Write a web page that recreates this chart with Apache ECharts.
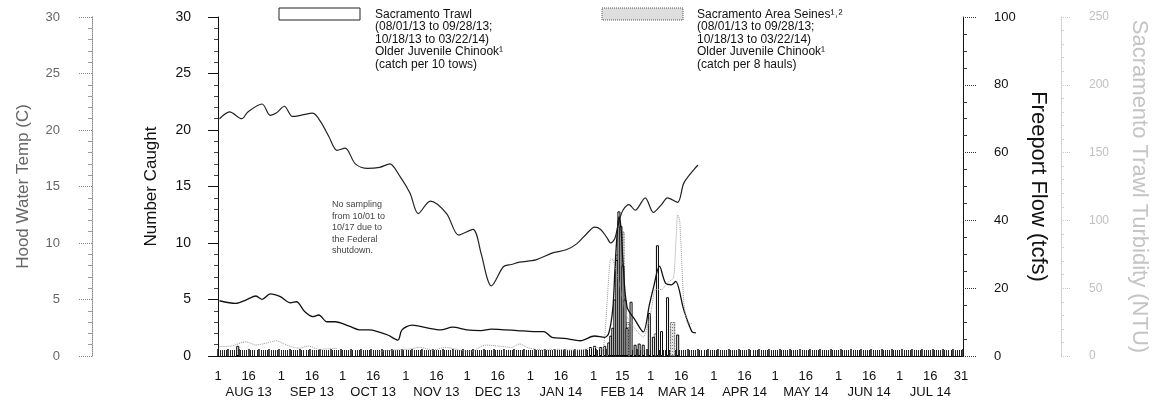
<!DOCTYPE html>
<html><head><meta charset="utf-8">
<script src="https://cdn.jsdelivr.net/npm/echarts@6/dist/echarts.min.js"></script>
<style>html,body{margin:0;padding:0;background:#fff}#c{width:1158px;height:408px}</style>
</head><body><div id="c"></div>
<script>
// ---------- data ----------
const monthNames = ['JAN','FEB','MAR','APR','MAY','JUN','JUL','AUG','SEP','OCT','NOV','DEC'];
const axisStart = '2013-08-01';
const axisEnd = '2014-08-01';

const tempDates = ['2013-08-01','2013-08-06','2013-08-12','2013-08-15','2013-08-22','2013-08-26','2013-08-29','2013-09-02','2013-09-06','2013-09-10','2013-09-16','2013-09-20','2013-09-24','2013-09-28','2013-10-02','2013-10-07','2013-10-13','2013-10-19','2013-10-24','2013-10-29','2013-11-03','2013-11-07','2013-11-13','2013-11-21','2013-11-27','2013-12-04','2013-12-08','2013-12-11','2013-12-13','2013-12-19','2013-12-23','2013-12-27','2014-01-04','2014-01-12','2014-01-19','2014-01-24','2014-01-29','2014-02-02','2014-02-05','2014-02-08','2014-02-10','2014-02-12','2014-02-14','2014-02-16','2014-02-19','2014-02-22','2014-02-27','2014-03-03','2014-03-07','2014-03-10','2014-03-15','2014-03-18','2014-03-23','2014-03-25'];
const tempValues = [21.0,21.6,21.0,21.6,22.3,21.3,21.5,22.1,21.2,21.3,21.5,20.7,19.4,18.2,18.4,17.0,16.6,16.7,17.0,15.9,14.4,12.6,13.7,12.6,10.7,11.2,9.1,6.9,6.2,7.9,8.1,8.3,8.5,9.1,9.4,9.9,10.8,11.4,11.2,10.5,10.0,10.4,11.9,12.9,13.4,12.9,14.0,12.7,13.4,14.0,13.6,15.3,16.5,16.9];

const flowDates = ['2013-08-01','2013-08-09','2013-08-14','2013-08-19','2013-08-22','2013-08-26','2013-08-31','2013-09-05','2013-09-08','2013-09-12','2013-09-16','2013-09-19','2013-09-23','2013-09-27','2013-10-04','2013-10-09','2013-10-14','2013-10-18','2013-10-23','2013-10-28','2013-10-30','2013-11-04','2013-11-12','2013-11-18','2013-11-24','2013-12-01','2013-12-08','2013-12-13','2013-12-20','2013-12-26','2014-01-03','2014-01-08','2014-01-12','2014-01-18','2014-01-26','2014-02-02','2014-02-07','2014-02-09','2014-02-11','2014-02-12','2014-02-13','2014-02-14','2014-02-15','2014-02-16','2014-02-18','2014-02-22','2014-02-26','2014-03-01','2014-03-03','2014-03-06','2014-03-09','2014-03-12','2014-03-14','2014-03-18','2014-03-22','2014-03-24'];
const flowValues = [16.3,15.5,16.5,17.7,16.7,18.3,17.5,15.7,16.0,13.1,11.6,12.1,10.1,10.1,8.8,7.7,7.7,7.2,6.2,4.7,7.7,9.1,8.2,7.7,8.5,7.7,7.5,7.9,7.7,7.5,7.2,7.2,5.5,5.2,4.5,5.9,5.5,6.7,14,25,35,41,38,28,14.5,10.6,7.1,15,20,26.5,21.5,21,22,13.6,7.2,6.8];

const turbDates = ['2013-08-01','2013-08-07','2013-08-14','2013-08-19','2013-08-25','2013-08-29','2013-09-03','2013-09-09','2013-09-14','2013-09-19','2013-09-28','2013-10-08','2013-10-18','2013-10-26','2013-11-02','2013-11-08','2013-11-14','2013-11-21','2013-11-27','2013-12-03','2013-12-10','2013-12-16','2013-12-23','2013-12-27','2014-01-01','2014-01-08','2014-01-15','2014-01-21','2014-01-28','2014-02-03','2014-02-06','2014-02-10','2014-02-11','2014-02-14','2014-02-18','2014-02-26','2014-03-02','2014-03-04','2014-03-07','2014-03-10','2014-03-13','2014-03-15','2014-03-16','2014-03-18','2014-03-20','2014-03-22'];
const turbValues = [6.9,7.4,10.5,8.1,9.8,11.3,8.1,5.7,7.4,4.9,5.7,null,3.2,4.4,4.9,6.4,4.4,6.4,4.4,3.2,8.1,7.4,6.4,8.9,5.7,4.4,4.9,4.4,4.9,6.4,4.4,72,71,55,29,14,34,49,49,54,58,104,100,40,24,24];

const trawlDates = ['2013-08-10','2014-01-31','2014-02-02','2014-02-05','2014-02-07','2014-02-09','2014-02-10','2014-02-11','2014-02-12','2014-02-13','2014-02-14','2014-02-15','2014-02-16','2014-02-17','2014-02-18','2014-02-20','2014-02-22','2014-02-24','2014-02-26','2014-03-01','2014-03-03','2014-03-05','2014-03-07','2014-03-10','2014-03-15'];
const trawlValues = [0.9,0.8,0.9,0.8,0.9,1.2,1.8,2.5,5.0,8.5,12.8,11.5,8.0,5.0,2.5,4.8,1.0,1.1,1.0,3.8,1.7,9.8,2.2,5.2,1.9];

const seineDates = ['2014-02-13','2014-02-15','2014-02-18','2014-03-04','2014-03-12'];
const seineValues = [9.0,11.0,3.0,2.0,3.0];

// ---------- helpers ----------
const FONT = '"Liberation Sans", Arial, sans-serif';
const toTs = s => { const p = s.split('-').map(Number); return new Date(p[0], p[1]-1, p[2]).getTime(); };
const pairs = (d, v) => d.map((x, i) => [toTs(x), v[i]]);
const pad = n => (n < 10 ? '0' : '') + n;
const days = [];
for (let t = new Date(2013, 7, 1); t <= new Date(2014, 7, 1); t.setDate(t.getDate() + 1)) {
  days.push(t.getFullYear() + '-' + pad(t.getMonth() + 1) + '-' + pad(t.getDate()));
}
const parts = v => v.split('-').map(Number);
const isMid = (m, d) => (m === 2 ? d === 15 : d === 16);
const isLabelDay = (i, v) => {
  if (i === days.length - 1) return false;
  const [y, m, d] = parts(v);
  return d === 1 || isMid(m, d) || (m === 7 && d === 31);
};
const fmtLabel = v => {
  const [y, m, d] = parts(v);
  if (isMid(m, d)) return d + '\n' + monthNames[m - 1] + ' ' + String(y).slice(2);
  return String(d);
};

const chart = echarts.init(document.getElementById('c'));
chart.setOption({
  animation: false,
  backgroundColor: '#fff',
  textStyle: { fontFamily: FONT },
  grid: { left: 218, right: 191, top: 17, bottom: 52 },
  xAxis: [
    { type: 'time', min: toTs(axisStart), max: toTs(axisEnd), show: false },
    { type: 'category', data: days, boundaryGap: false, position: 'bottom',
      axisLine: { show: true, lineStyle: { color: '#111', width: 1 } },
      axisTick: { show: false },
      axisLabel: { interval: isLabelDay, formatter: fmtLabel, margin: 12, fontSize: 13, lineHeight: 16, color: '#111', fontFamily: FONT },
      splitLine: { show: false } },
    { type: 'value', position: 'bottom', min: 0, max: 365, interval: 5,
      axisLine: { show: true, lineStyle: { color: '#111' } }, axisLabel: { show: false }, splitLine: { show: false },
      axisTick: { show: true, inside: false, length: -7, lineStyle: { color: '#111', width: 1.5 } },
      minorTick: { show: true, splitNumber: 5, length: -6, lineStyle: { color: '#222', width: 1 } } }
  ],
  yAxis: [
    { type: 'value', position: 'left', min: 0, max: 30, interval: 5,
      name: 'Number Caught', nameLocation: 'middle', nameGap: 58,
      nameTextStyle: { fontSize: 17, color: '#111', fontFamily: FONT },
      axisLine: { show: true, lineStyle: { color: '#111' } },
      axisTick: { show: true, length: 10, lineStyle: { color: '#111' } },
      minorTick: { show: true, splitNumber: 5, length: 4, lineStyle: { color: '#444' } },
      axisLabel: { margin: 27, fontSize: 14, color: '#111', fontFamily: FONT },
      splitLine: { show: false } },
    { type: 'value', position: 'left', offset: 126, min: 0, max: 30, interval: 5,
      name: 'Hood Water Temp (C)', nameLocation: 'middle', nameGap: 60,
      nameTextStyle: { fontSize: 17, color: '#666', fontFamily: FONT },
      axisLine: { show: true, lineStyle: { color: '#888', type: 'dotted' } },
      axisTick: { show: true, length: 14, lineStyle: { color: '#888', type: 'dotted' } },
      minorTick: { show: true, splitNumber: 5, length: 4, lineStyle: { color: '#999' } },
      axisLabel: { margin: 32, fontSize: 13, color: '#666', fontFamily: FONT },
      splitLine: { show: false } },
    { type: 'value', position: 'right', min: 0, max: 100, interval: 20,
      name: 'Freeport Flow (tcfs)', nameLocation: 'middle', nameGap: 57, nameRotate: -90,
      nameTextStyle: { fontSize: 22, color: '#111', fontFamily: FONT },
      axisLine: { show: true, lineStyle: { color: '#111' } },
      axisTick: { show: true, length: 13, lineStyle: { color: '#333', type: 'dotted' } },
      minorTick: { show: true, splitNumber: 4, length: 4, lineStyle: { color: '#333' } },
      axisLabel: { margin: 31, fontSize: 13, color: '#111', fontFamily: FONT },
      splitLine: { show: false } },
    { type: 'value', position: 'right', offset: 98, min: 0, max: 250, interval: 50,
      name: 'Sacramento Trawl Turbidity (NTU)', nameLocation: 'middle', nameGap: 67, nameRotate: -90,
      nameTextStyle: { fontSize: 22, color: '#c4c4c4', fontFamily: FONT },
      axisLine: { show: true, lineStyle: { color: '#c8c8c8', type: 'dotted' } },
      axisTick: { show: true, length: 10, lineStyle: { color: '#c8c8c8', type: 'dotted' } },
      minorTick: { show: true, splitNumber: 5, length: 3, lineStyle: { color: '#d4d4d4' } },
      axisLabel: { margin: 28, fontSize: 12, color: '#c0c0c0', fontFamily: FONT },
      splitLine: { show: false } }
  ],
  series: [
    { name: 'Sacramento Area Seines', type: 'bar', xAxisIndex: 0, yAxisIndex: 0, barWidth: 5, z: 2,
      itemStyle: { color: '#e4e4e4', borderColor: '#666', borderWidth: 0.8, borderType: 'dotted',
        decal: { symbol: 'rect', symbolSize: 1, dashArrayX: [1, 1], dashArrayY: [1, 2], color: '#777', rotation: 0 } },
      data: pairs(seineDates, seineValues) },
    { name: 'Sacramento Trawl', type: 'bar', xAxisIndex: 0, yAxisIndex: 0, barWidth: 3, barGap: '-100%', z: 3,
      itemStyle: { color: '#fff', borderColor: '#000', borderWidth: 1 },
      data: pairs(trawlDates, trawlValues) },
    { name: 'Hood Water Temp', type: 'line', xAxisIndex: 0, yAxisIndex: 1, symbol: 'none', smooth: 0.3, z: 4,
      lineStyle: { color: '#222', width: 1.2 }, data: pairs(tempDates, tempValues) },
    { name: 'Freeport Flow', type: 'line', xAxisIndex: 0, yAxisIndex: 2, symbol: 'none', smooth: 0.3, z: 4,
      lineStyle: { color: '#111', width: 1.3 }, data: pairs(flowDates, flowValues) },
    { name: 'Turbidity', type: 'line', xAxisIndex: 0, yAxisIndex: 3, symbol: 'none', smooth: 0.2, connectNulls: false, z: 4,
      lineStyle: { color: '#9a9a9a', width: 1, type: 'dotted' }, data: pairs(turbDates, turbValues) }
  ],
  graphic: [
    { type: 'rect', shape: { x: 279, y: 8, width: 81, height: 12 }, style: { fill: '#fff', stroke: '#222', lineWidth: 1 } },
    { type: 'text', x: 375, y: 8, style: { text: 'Sacramento Trawl\n(08/01/13 to 09/28/13;\n10/18/13 to 03/22/14)\nOlder Juvenile Chinook¹\n(catch per 10 tows)',
      font: '12px ' + FONT, lineHeight: 12.5, fill: '#111', verticalAlign: 'top' } },
    { type: 'rect', shape: { x: 602, y: 8, width: 81, height: 12 }, style: { fill: '#dedede', stroke: '#555', lineWidth: 1, lineDash: [1, 1] } },
    { type: 'text', x: 697, y: 8, style: { text: 'Sacramento Area Seines¹˒²\n(08/01/13 to 09/28/13;\n10/18/13 to 03/22/14)\nOlder Juvenile Chinook¹\n(catch per 8 hauls)',
      font: '12px ' + FONT, lineHeight: 12.5, fill: '#111', verticalAlign: 'top' } },
    { type: 'text', x: 332, y: 199, style: { text: 'No sampling\nfrom 10/01 to\n10/17 due to\nthe Federal\nshutdown.',
      font: '9px ' + FONT, lineHeight: 11.5, fill: '#444', verticalAlign: 'top' } }
  ]
});
</script>
</body></html>
